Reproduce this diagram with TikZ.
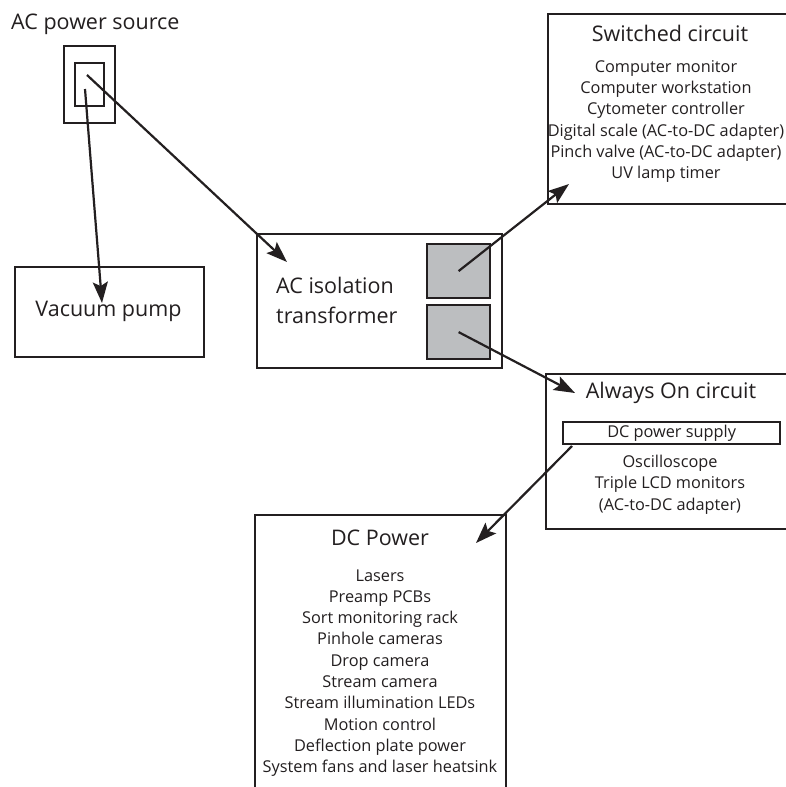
\documentclass[tikz,border=0pt]{standalone}
\usepackage{fontspec}
\setmainfont{Open Sans}
\usetikzlibrary{arrows.meta}
\definecolor{ink}{HTML}{231F20}
\definecolor{grayfill}{HTML}{BCBEC0}
\begin{document}
\begin{tikzpicture}[x=1pt,y=-1pt,
  box/.style={draw=ink, line width=2.2pt, inner sep=0pt, anchor=north west},
  gbox/.style={box, fill=grayfill},
  conn/.style={draw=ink, line width=2.2pt, -{Stealth[length=21pt,width=15pt,inset=4pt]}},
  title/.style={font=\fontsize{21.5}{26}\selectfont, text=ink, inner sep=0pt},
  items/.style={font=\fontsize{16.3}{21.3}\selectfont, text=ink, align=center, inner sep=0pt}]
\useasboundingbox (0,0) rectangle (786,787);
\clip (0,0) rectangle (786,787);
\fill[white] (0,0) rectangle (786,787);

% AC power source
\node[title, anchor=west] (srclabel) at (11,24) {AC power source};
\node[box, minimum width=51pt, minimum height=77pt] (src) at (63,45) {};
\node[box, minimum width=29pt, minimum height=43pt] (srcin) at (74,62) {};

% Vacuum pump
\node[box, minimum width=189pt, minimum height=90pt] (vac) at (14,266) {};
\node[title] (vaclabel) at (108.5,311) {Vacuum pump};

% Isolation transformer
\node[box, minimum width=245pt, minimum height=134pt] (iso) at (256,233) {};
\node[title, align=left, anchor=west, font=\fontsize{21.5}{30}\selectfont] (isolabel) at (276,300) {AC isolation\\transformer};
\node[gbox, minimum width=63pt, minimum height=54pt] (ga) at (426,243) {};
\node[gbox, minimum width=63pt, minimum height=54pt] (gb) at (426,304) {};

% Switched circuit
\node[box, minimum width=243pt, minimum height=190pt] (sw) at (547,13) {};
\node[title] (swtitle) at (670,33) {Switched circuit};
\node[items] (switems) at (666,121.5) {Computer monitor\\Computer workstation\\Cytometer controller\\Digital scale (AC-to-DC adapter)\\Pinch valve (AC-to-DC adapter)\\UV lamp timer};

% Always On circuit
\node[box, minimum width=245pt, minimum height=155pt] (ao) at (545,373) {};
\node[title] (aotitle) at (671,393) {Always On circuit};
\node[box, minimum width=217pt, minimum height=22pt] (dcs) at (562,421) {};
\node[items] (dcslabel) at (dcs.center) {DC power supply};
\node[items] (aoitems) at (670,484.5) {Oscilloscope\\Triple LCD monitors\\(AC-to-DC adapter)};

% DC Power
\node[box, minimum width=251pt, minimum height=290pt] (dc) at (254,514) {};
\node[title] (dctitle) at (380,538) {DC Power};
\node[items] (dcitems) at (380,673) {Lasers\\Preamp PCBs\\Sort monitoring rack\\Pinhole cameras\\Drop camera\\Stream camera\\Stream illumination LEDs\\Motion control\\Deflection plate power\\System fans and laser heatsink};

% connector ends
\coordinate (srcA) at (85,89);
\coordinate (srcB) at (87,75);
\coordinate (vacTip) at (102,303);
\coordinate (isoTip) at (287,262);
\coordinate (swTip) at (569,184);
\coordinate (aoTip) at (575,393);
\coordinate (dcsOut) at (572,446);
\coordinate (dcTip) at (476,543);

\draw[conn] (srcA) -- (vacTip);
\draw[conn] (srcB) -- (isoTip);
\draw[conn] (ga.center) -- (swTip);
\draw[conn] (gb.center) -- (aoTip);
\draw[conn] (dcsOut) -- (dcTip);
\end{tikzpicture}
\end{document}
